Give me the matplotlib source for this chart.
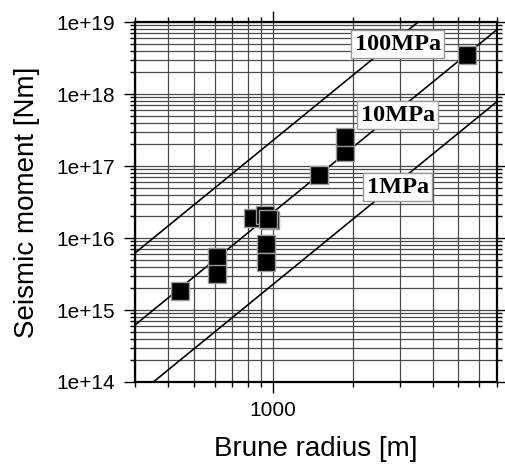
import numpy as np
import matplotlib
matplotlib.use("Agg")
import matplotlib.pyplot as plt
from matplotlib.ticker import LogLocator, FuncFormatter, NullFormatter

# Brune radius [m] and seismic moment [Nm] of each event
radio = [443, 611, 611, 841, 933, 975, 957, 942, 942, 1489, 1866, 1866, 5409]
momento = [1.84e15, 5.45e15, 3.16e15, 1.90e16, 2.08e16, 1.78e16, 1.84e16,
           8.26e15, 4.64e15, 7.5e16, 1.56e17, 2.53e17, 3.48e18]

# stress drops for the reference lines [MPa]
caidas = [100, 10, 1]
etiquetas = ["100MPa", "10MPa", "1MPa"]
pos_etiqueta = [(2950, 4.94e18), (2950, 5.1e17), (2950, 5.1e16)]

x_min, x_max = 300, 7000
y_min, y_max = 1e14, 1e19

fig = plt.figure(figsize=(5.05, 4.65), dpi=100)
ax = fig.add_axes([0.267, 0.1785, 0.717, 0.774])
ax.set_xscale("log")
ax.set_yscale("log")
ax.set_xlim(x_min, x_max)
ax.set_ylim(y_min, y_max)

# M0 = 16/7 * dsigma * r^3
r = np.logspace(np.log10(x_min), np.log10(x_max), 200)
for dsig in caidas:
    ax.plot(r, 16.0 / 7.0 * dsig * 1e6 * r ** 3, color="black", lw=1.2, zorder=3)

for txt, (xt, yt) in zip(etiquetas, pos_etiqueta):
    ax.text(xt, yt, txt, family="Liberation Serif", weight="bold", fontsize=17.5,
            ha="center", va="center", zorder=6,
            bbox=dict(boxstyle="square,pad=0.15", fc="white", ec="#999999", lw=1.0))

ax.plot(radio, momento, "s", color="black", markersize=12.5,
        markeredgecolor="#9a9a9a", markeredgewidth=1.0, zorder=5, clip_on=False)

ax.xaxis.set_major_locator(LogLocator(base=10))
ax.xaxis.set_minor_locator(LogLocator(base=10, subs=np.arange(2, 10)))
ax.yaxis.set_major_locator(LogLocator(base=10))
ax.yaxis.set_minor_locator(LogLocator(base=10, subs=np.arange(2, 10)))
ax.xaxis.set_major_formatter(FuncFormatter(lambda v, p: "%d" % round(v)))
ax.xaxis.set_minor_formatter(NullFormatter())
ax.yaxis.set_major_formatter(FuncFormatter(lambda v, p: "1e+%d" % round(np.log10(v))))
ax.yaxis.set_minor_formatter(NullFormatter())

ax.grid(True, which="both", color="#4a4a4a", lw=0.9, zorder=1)
ax.set_axisbelow(True)

ax.tick_params(which="both", direction="out", top=True, right=True, width=1.0)
ax.tick_params(which="major", length=8, pad=6)
ax.tick_params(which="minor", length=3.5)
ax.tick_params(labelsize=15)
for lab in ax.get_xticklabels() + ax.get_yticklabels():
    lab.set_family("Liberation Sans")
for s in ax.spines.values():
    s.set_linewidth(1.6)

ax.set_xlabel("Brune radius [m]", family="Liberation Sans", fontsize=20, labelpad=11)
ax.set_ylabel("Seismic moment [Nm]", family="Liberation Sans", fontsize=20, labelpad=12)

fig.savefig("out.png", dpi=100)
